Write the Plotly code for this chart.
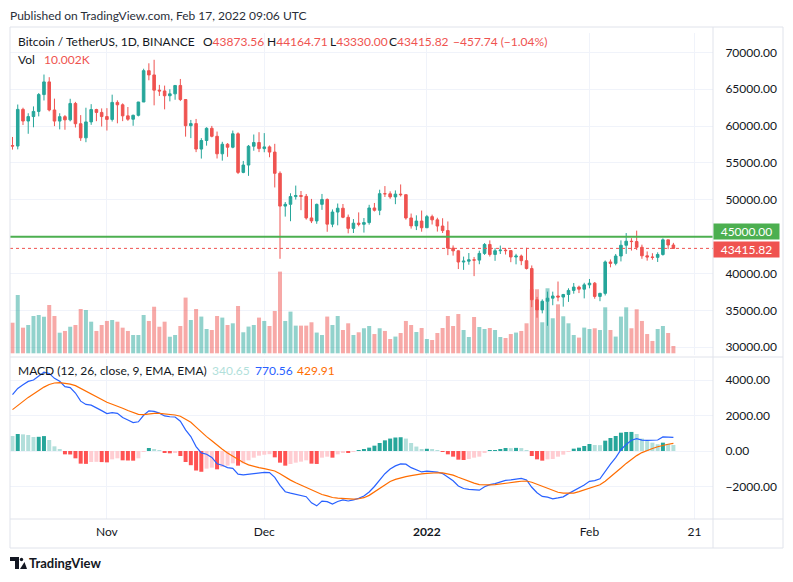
import pandas as pd
import plotly.graph_objects as go

# the page puts the figure 8px in from the top-left corner
OFF = 8
W, H = 793 - OFF, 582 - OFF
FONT = "Lato, Roboto, sans-serif"

# daily candles, BINANCE BTCUSDT, 2021-10-14 .. 2022-02-17
dates = pd.date_range("2021-10-14", "2022-02-17", freq="D")

opens = [57360, 57300, 62272, 60692, 61300, 61996, 64280, 66002, 62194, 60688,
         61286, 60852, 63078, 60328, 58413, 60575, 62253, 61859, 61300, 60911,
         63219, 62896, 61395, 60938, 61470, 63273, 67525, 66947, 64882, 64774,
         64122, 64380, 65519, 63606, 60058, 60344, 56891, 58052, 59707, 58622,
         56247, 57541, 57138, 58960, 53726, 54721, 57274, 57776, 56950, 57184,
         56480, 53601, 49152, 49396, 50441, 50588, 50471, 47545, 47140, 49389,
         50053, 46702, 48343, 48864, 47632, 46131, 46834, 46681, 46915, 48897,
         48588, 50838, 50820, 50400, 50775, 50701, 47543, 46464, 47120, 46216,
         47722, 47286, 46446, 45832, 43451, 43082, 41566, 41679, 41864, 41822,
         42736, 43946, 42592, 43099, 43177, 43113, 42250, 42375, 41744, 40680,
         36445, 35071, 36244, 36660, 36958, 36809, 37161, 37712, 38166, 37881,
         38466, 38694, 36896, 37311, 41574, 41382, 42380, 43840, 44388, 44340,
         43565, 42407, 42244, 42197, 42586, 44575, 43873.56]
highs = [58530, 62933, 62500, 61750, 62675, 64486, 67000, 66639, 63732, 61747,
         61500, 63710, 63293, 61496, 62499, 62980, 62359, 62405, 62437, 64270,
         63500, 63086, 62595, 61560, 63286, 67789, 68524, 69000, 65600, 65500,
         65000, 65550, 66401, 63617, 60840, 60976, 58372, 59845, 60029, 59266,
         57875, 57700, 59398, 59150, 55280, 57445, 58865, 59176, 59053, 57375,
         57600, 53859, 49699, 50891, 51936, 51200, 50797, 50125, 49485, 50800,
         50189, 48700, 49500, 49436, 48004, 47392, 48300, 47537, 49328, 49576,
         51375, 51869, 51156, 51280, 52088, 50704, 48139, 47900, 48548, 47954,
         47990, 47570, 47505, 47070, 43816, 43145, 42300, 42786, 42248, 43100,
         44135, 44500, 43447, 43800, 43476, 43176, 42675, 42570, 43505, 41100,
         36835, 36499, 37550, 37545, 38919, 37234, 38000, 38720, 38359, 38744,
         39265, 38855, 37387, 41772, 41913, 42657, 44500, 45492, 44798, 45821,
         43920, 43000, 42760, 42876, 44775, 44584, 44164.71]
lows = [56820, 56850, 60150, 58963, 59844, 61322, 63481, 62000, 60000, 59562,
        59510, 60650, 59817, 58000, 57820, 60174, 60673, 59945, 59405, 60624,
        60382, 60677, 60721, 60050, 61322, 63273, 66222, 62822, 64100, 62278,
        63360, 63576, 63400, 58574, 58373, 56474, 55600, 57353, 58486, 55610,
        55317, 55837, 57000, 53500, 53610, 53256, 56666, 56476, 56458, 55777,
        51680, 42000, 47727, 47100, 50039, 48600, 47320, 46852, 46751, 48638,
        45672, 46290, 46547, 47511, 45456, 45500, 46406, 45558, 46630, 48421,
        47920, 50384, 50142, 49412, 50449, 47313, 46096, 45900, 45678, 46208,
        46654, 45696, 45502, 42500, 42430, 40610, 40501, 41200, 39650, 41268,
        42528, 42311, 41725, 42653, 42581, 41540, 41250, 41138, 40553, 35440,
        34008, 34601, 32917, 35701, 36234, 35507, 36155, 37268, 37351, 36632,
        38000, 36586, 36250, 37026, 40843, 41116, 41645, 42667, 43117, 43188,
        42000, 41748, 41870, 41571, 42428, 43311, 43330.00]
closes = [57300, 62272, 60692, 61300, 61996, 64280, 66002, 62194, 60688, 61286,
          60852, 63078, 60328, 58413, 60575, 62253, 61859, 61300, 60911, 63219,
          62896, 61395, 60938, 61470, 63273, 67525, 66947, 64882, 64774, 64122,
          64380, 65519, 63606, 60058, 60344, 56891, 58052, 59707, 58622, 56247,
          57541, 57138, 58960, 53726, 54721, 57274, 57776, 56950, 57184, 56480,
          53601, 49152, 49396, 50441, 50588, 50471, 47545, 47140, 49389, 50053,
          46702, 48343, 48864, 47632, 46131, 46834, 46681, 46915, 48897, 48588,
          50838, 50820, 50400, 50775, 50701, 47543, 46464, 47120, 46216, 47722,
          47286, 46446, 45832, 43451, 43082, 41566, 41679, 41864, 41822, 42736,
          43946, 42592, 43099, 43177, 43113, 42250, 42375, 41744, 40680, 36445,
          35071, 36244, 36660, 36958, 36809, 37161, 37712, 38166, 37881, 38466,
          38694, 36896, 37311, 41574, 41382, 42380, 43840, 44388, 44340, 43565,
          42407, 42244, 42197, 42586, 44575, 43873.56, 43415.82]
# volume in thousand BTC
vol_k = [41.9, 79.9, 35.1, 38.8, 51.1, 52.5, 50.1, 66.2, 51.1, 28.2,
         30.6, 36.4, 38.8, 60.7, 59.3, 43.3, 30.6, 38.8, 44.3, 45.6,
         43.3, 35.1, 30.6, 25.1, 25.1, 52.5, 44.3, 63.8, 36.4, 43.3,
         22.7, 25.1, 37.4, 76.3, 45.6, 60.7, 50.3, 33.3, 31.9, 51.1,
         48.9, 38.8, 41.1, 64.8, 28.8, 36.6, 38.8, 48.9, 44.3, 37.4,
         58.0, 111.9, 44.3, 57.1, 37.9, 37.9, 37.9, 42.5, 28.4, 25.1,
         50.3, 38.8, 51.1, 31.9, 41.1, 25.1, 28.8, 34.3, 37.4, 26.4,
         34.3, 30.6, 19.6, 22.9, 27.8, 44.3, 38.8, 29.2, 34.7, 19.6,
         18.2, 27.8, 34.7, 51.1, 37.4, 53.8, 31.9, 22.3, 49.7, 36.0,
         33.3, 34.7, 31.9, 22.3, 21.0, 26.4, 28.4, 30.6, 41.1, 87.7,
         87.7, 42.5, 89.1, 48.0, 67.1, 50.7, 41.1, 25.1, 21.5, 35.2,
         33.3, 34.3, 31.9, 63.0, 31.9, 22.9, 50.3, 63.0, 34.3, 60.3,
         44.3, 26.4, 16.9, 33.3, 37.4, 27.8, 10.002]

# MACD (12, 26, close, 9)
macd_line = [3175, 3527, 3738, 3920, 3998, 4210, 4440, 4370, 4093, 3925,
             3622, 3575, 3267, 2807, 2625, 2580, 2440, 2275, 2110, 2165,
             2122, 1885, 1745, 1605, 1647, 2012, 2259, 2228, 2134, 1977,
             1929, 1917, 1678, 1190, 815, 245, -110, -185, -363, -717,
             -805, -936, -979, -1306, -1344, -1305, -1245, -1203, -1205, -1220,
             -1482, -1937, -2296, -2372, -2447, -2525, -2575, -2923, -3090, -2825,
             -2850, -2995, -2848, -2755, -2815, -2750, -2670, -2540, -2310, -2000,
             -1630, -1280, -1020, -840, -725, -740, -940, -1080, -1180, -1133,
             -1140, -1185, -1273, -1468, -1679, -1968, -2112, -2167, -2185, -2209,
             -2009, -1892, -1842, -1757, -1659, -1628, -1570, -1539, -1634, -2042,
             -2348, -2558, -2602, -2695, -2644, -2583, -2402, -2239, -2102, -1918,
             -1706, -1672, -1570, -1118, -738, -375, 72, 370, 605, 697,
             610, 600, 610, 620, 790, 774, 770.56]
signal_line = [2330, 2570, 2800, 3020, 3210, 3410, 3600, 3750, 3830, 3850,
               3810, 3770, 3680, 3520, 3350, 3200, 3050, 2900, 2750, 2635,
               2535, 2410, 2280, 2150, 2060, 2050, 2090, 2115, 2115, 2090,
               2060, 2030, 1960, 1810, 1615, 1345, 1060, 810, 575, 315,
               95, -110, -285, -480, -650, -780, -870, -940, -995, -1040,
               -1125, -1280, -1470, -1640, -1790, -1925, -2050, -2210, -2360, -2450,
               -2530, -2620, -2660, -2680, -2705, -2710, -2690, -2630, -2500, -2300,
               -2080, -1880, -1720, -1600, -1500, -1440, -1390, -1330, -1290, -1258,
               -1235, -1225, -1235, -1280, -1360, -1480, -1605, -1717, -1810, -1890,
               -1915, -1912, -1898, -1870, -1828, -1788, -1745, -1704, -1690, -1760,
               -1878, -2014, -2132, -2245, -2325, -2377, -2382, -2370, -2290, -2200,
               -2100, -2010, -1900, -1700, -1470, -1220, -960, -700, -470, -260,
               -90, 40, 140, 240, 320, 380, 429.91]
macd_hist = [845, 957, 938, 900, 788, 800, 840, 620, 263, 75,
             -188, -195, -413, -713, -725, -620, -610, -625, -640, -470,
             -413, -525, -535, -545, -413, -38, 169, 113, 19, -113,
             -131, -113, -282, -620, -800, -1100, -1170, -995, -938, -1032,
             -900, -826, -694, -826, -694, -525, -375, -263, -210, -180,
             -357, -657, -826, -732, -657, -600, -525, -713, -730, -375,
             -320, -375, -188, -75, -110, -40, 20, 90, 190, 300,
             450, 600, 700, 760, 775, 700, 450, 250, 110, 125,
             95, 40, -38, -188, -319, -488, -507, -450, -375, -319,
             -94, 20, 56, 113, 169, 160, 175, 165, 56, -282,
             -470, -544, -470, -450, -319, -206, -20, 131, 188, 282,
             394, 338, 330, 582, 732, 845, 1032, 1070, 1075, 957,
             700, 560, 470, 380, 470, 394, 340.65]

price_ticks = [30000, 35000, 40000, 50000, 55000, 60000, 65000, 70000]
macd_ticks = [-2000, 0, 2000, 4000]
month_ticks = ["2021-11-01", "2021-12-01", "2022-01-01", "2022-02-01", "2022-02-21"]
month_text = ["Nov", "Dec", "<b>2022</b>", "Feb", "21"]

UP, DOWN = "#26A69A", "#EF5350"
GRID = "#F0F3FA"
BORDER = "#E0E3EB"
TXT = "#131722"


# positions below are screen pixels of the 793x582 window
def px(x):
    return (x - OFF) / W


def py(y):
    return 1 - (y - OFF) / H


vol_colors = ["rgba(38,166,154,0.5)" if c >= o else "rgba(239,83,80,0.5)"
              for o, c in zip(opens, closes)]

hist_colors = []
for i, h in enumerate(macd_hist):
    rising = i > 0 and h > macd_hist[i - 1]
    if h >= 0:
        hist_colors.append("#26A69A" if rising else "#B2DFDB")
    else:
        hist_colors.append("#FFCDD2" if rising else "#FF5252")

DAY = 86400000

fig = go.Figure()
fig.add_trace(go.Bar(x=dates, y=vol_k, marker_color=vol_colors, marker_line_width=0,
                     width=0.76 * DAY, xaxis="x", yaxis="y"))
fig.add_trace(go.Candlestick(x=dates, open=opens, high=highs, low=lows, close=closes,
                             increasing=dict(line=dict(color=UP, width=1), fillcolor=UP),
                             decreasing=dict(line=dict(color=DOWN, width=1), fillcolor=DOWN),
                             xaxis="x", yaxis="y2"))
fig.add_trace(go.Bar(x=dates, y=macd_hist, marker_color=hist_colors, marker_line_width=0,
                     width=0.76 * DAY, xaxis="x2", yaxis="y3"))
fig.add_trace(go.Scatter(x=dates, y=macd_line, mode="lines",
                         line=dict(color="#2962FF", width=1.2), xaxis="x2", yaxis="y3"))
fig.add_trace(go.Scatter(x=dates, y=signal_line, mode="lines",
                         line=dict(color="#FF6D00", width=1.2), xaxis="x2", yaxis="y3"))

x_range = ["2021-10-13 12:34", "2022-02-24 13:12"]
xdom = [px(10), px(713)]

fig.update_layout(
    width=W, height=H, margin=dict(l=0, r=0, t=0, b=0),
    paper_bgcolor="white", plot_bgcolor="white", showlegend=False,
    font=dict(family=FONT, size=12, color=TXT),
    xaxis=dict(domain=xdom, anchor="y", type="date", range=x_range,
               rangeslider=dict(visible=False), tickvals=month_ticks,
               showticklabels=False, showgrid=True, gridcolor=GRID,
               zeroline=False, showline=False),
    xaxis2=dict(domain=xdom, anchor="y3", type="date", range=x_range,
                tickvals=month_ticks, ticktext=month_text, showgrid=True,
                gridcolor=GRID, zeroline=False, showline=False,
                ticks="outside", ticklen=2, tickcolor="rgba(0,0,0,0)",
                tickfont=dict(size=12, color=TXT)),
    yaxis=dict(domain=[py(355), py(33)], anchor="x", range=[-2.33, 438.8],
               visible=False, showgrid=False),
    yaxis2=dict(overlaying="y", anchor="x", side="right", range=[28950, 72636],
                tickvals=price_ticks, ticktext=[f"{v:.2f}" for v in price_ticks],
                showgrid=True, gridcolor=GRID, zeroline=False, showline=False,
                ticks="outside", ticklen=9, tickcolor="rgba(0,0,0,0)",
                tickfont=dict(size=12, color=TXT)),
    yaxis3=dict(domain=[py(519), py(359)], anchor="x2", side="right",
                range=[-3831, 5183], tickvals=macd_ticks,
                ticktext=["\u22122000.00", "0.00", "2000.00", "4000.00"],
                showgrid=True, gridcolor=GRID, zeroline=False, showline=False,
                ticks="outside", ticklen=9, tickcolor="rgba(0,0,0,0)",
                tickfont=dict(size=12, color=TXT)),
)

# horizontal line at 45000 and last price line
fig.add_shape(type="line", xref="paper", yref="y2", x0=px(10), x1=px(713),
              y0=45000, y1=45000, line=dict(color="#4CAF50", width=2))
fig.add_shape(type="line", xref="paper", yref="y2", x0=px(10), x1=px(713),
              y0=closes[-1], y1=closes[-1], line=dict(color=DOWN, width=1, dash="dot"))

# chart frame and pane separators
line_style = dict(color=BORDER, width=1)
fig.add_shape(type="rect", xref="paper", yref="paper", x0=px(10), x1=px(783),
              y0=py(548), y1=py(27), line=line_style, layer="above")
fig.add_shape(type="line", xref="paper", yref="paper", x0=px(10), x1=px(783),
              y0=py(357), y1=py(357), line=line_style)
fig.add_shape(type="line", xref="paper", yref="paper", x0=px(10), x1=px(783),
              y0=py(519), y1=py(519), line=line_style)
fig.add_shape(type="line", xref="paper", yref="paper", x0=px(713), x1=px(713),
              y0=py(548), y1=py(27), line=line_style)


def label(text, x, y, size=12, color=TXT, **kw):
    fig.add_annotation(text=text, x=px(x), y=py(y), xref="paper", yref="paper",
                       xanchor="left", yanchor="middle", showarrow=False,
                       font=dict(family=FONT, size=size, color=color), **kw)


def red(s):
    return f"<span style='color:{DOWN}'>{s}</span>"


label("Published on TradingView.com, Feb 17, 2022 09:06 UTC", 8, 15, size=12, color="#2A2E39")
label("Bitcoin / TetherUS, 1D, BINANCE", 16, 42)
label("O" + red("43873.56"), 201, 42)
label("H" + red("44164.71"), 265, 42)
label("L" + red("43330.00"), 328, 42)
label("C" + red("43415.82"), 387, 42)
label(red("\u2212457.74 (\u22121.04%)"), 451, 42)
label("Vol", 16, 59)
label(red("10.002K"), 42, 59)
label("MACD (12, 26, close, 9, EMA, EMA)", 16, 370)
label("340.65", 210, 370, color="#B2DFDB")
label("770.56", 253, 370, color="#2962FF")
label("429.91", 295, 370, color="#FF6D00")

# price axis badges
fig.add_annotation(text="45000.00", x=px(713), y=py(231.3), xref="paper", yref="paper",
                   xanchor="left", yanchor="middle", showarrow=False, width=63, height=13,
                   align="center", bgcolor="#4CAF50", borderpad=1,
                   font=dict(family=FONT, size=12, color="white"))
fig.add_annotation(text="43415.82", x=px(713), y=py(249.5), xref="paper", yref="paper",
                   xanchor="left", yanchor="middle", showarrow=False, width=63, height=13,
                   align="center", bgcolor=DOWN, borderpad=1,
                   font=dict(family=FONT, size=12, color="white"))

# TradingView logo
logo = "M {0},{1} L {2},{1} L {2},{3} L {4},{3} L {4},{5} L {0},{5} Z".format(
    px(10), py(557), px(19), py(569), px(15), py(561))
fig.add_shape(type="path", xref="paper", yref="paper", path=logo,
              fillcolor=TXT, line=dict(width=0))
fig.add_shape(type="circle", xref="paper", yref="paper", x0=px(19.8), x1=px(23.2),
              y0=py(561.2), y1=py(557.8), fillcolor=TXT, line=dict(width=0))
tri = "M {0},{1} L {2},{3} L {4},{1} Z".format(px(20), py(569), px(24.5), py(562), px(27))
fig.add_shape(type="path", xref="paper", yref="paper", path=tri,
              fillcolor=TXT, line=dict(width=0))
label("<b>TradingView</b>", 27, 563, size=13)

fig.write_html("out.html")
